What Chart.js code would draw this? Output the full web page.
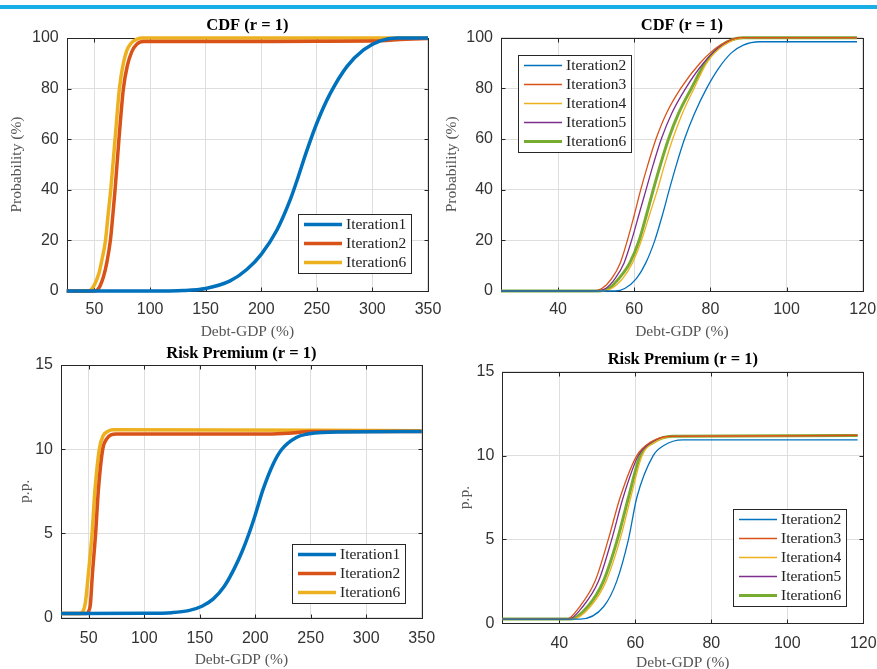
<!DOCTYPE html>
<html>
<head>
<meta charset="utf-8">
<title>CDF and Risk Premium (r = 1)</title>
<script src="https://cdn.jsdelivr.net/npm/chart.js@4.4.1/dist/chart.umd.min.js"></script>
<style>
  html, body { margin: 0; padding: 0; background: #fff; }
  #wrap { position: relative; width: 877px; height: 669px; overflow: hidden; }
  #wrap canvas { position: absolute; left: 0; top: 0; }
  .bar { position: absolute; left: 0; top: 5px; width: 877px; height: 4px; background: #19aee6; }
</style>
</head>
<body>
<div id="wrap">
  <div class="bar"></div>
  <canvas id="cdfWide" width="877" height="669"></canvas>
  <canvas id="cdfNarrow" width="877" height="669"></canvas>
  <canvas id="premWide" width="877" height="669"></canvas>
  <canvas id="premNarrow" width="877" height="669"></canvas>
</div>
<script>
// tick labels
const debtTicksWide = [50, 100, 150, 200, 250, 300, 350];
const debtTicksNarrow = [40, 60, 80, 100, 120];
const probTicks = [0, 20, 40, 60, 80, 100];
const premTicks = [0, 5, 10, 15];

// CDF, iterations 1, 2, 6 (top left)
const cdfW1X = [25, 100, 130, 150, 172, 187, 200, 214, 226, 232, 241, 250.6, 262, 277, 292, 307, 322, 350];
const cdfW1Y = [0, 0, 0.2, 1.0, 4, 8.5, 14.5, 24, 36, 43.5, 55.5, 67, 78, 88.7, 95.3, 98.9, 100, 100];
const cdfW2X = [25, 50, 52.5, 55, 58, 61, 64.3, 66.5, 68.5, 72, 76, 79.5, 83.5, 88, 94, 150, 250, 300, 330, 350];
const cdfW2Y = [0, 0, 0.4, 2, 5.5, 11, 20, 30, 40, 60, 80, 89, 94.5, 97.5, 98.6, 98.6, 98.7, 98.8, 99.5, 99.8];
const cdfW6X = [25, 44, 47, 50.5, 54, 57, 59.9, 62.2, 64.6, 68.5, 72.4, 75.5, 79, 83, 88, 93, 350];
const cdfW6Y = [0, 0, 0.5, 3, 7, 13, 20, 30, 40, 60, 80, 89, 95, 98, 99.5, 100, 100];

// CDF, iterations 2 to 6 (top right)
const cdfLevels = [0, 0, 1, 5, 11, 20, 30, 40, 50, 60, 70, 80, 90, 97, 100, 100];
const cdfN2X = [25, 55, 57.5, 60.6, 63, 65.4, 67.4, 69.2, 71.1, 73.2, 75.8, 79, 82.2, 85.5, 88.5, 93, 118.5];
const cdfN2Y = [0, 0, 1, 5, 11, 20, 30, 40, 50, 60, 70, 80, 88, 94, 97, 98.4, 98.4];
const cdfN3X = [25, 49, 51.5, 54.1, 56.3, 58.2, 60, 61.7, 63.6, 65.7, 68.4, 72.2, 77.3, 82.5, 88, 118.5];
const cdfN4X = [25, 51, 54, 57, 59.5, 61.9, 64, 66.1, 68, 70.1, 72.6, 75.7, 79, 83.5, 89.5, 118.5];
const cdfN5X = [25, 50, 52.5, 55, 57.3, 59.3, 61.2, 63.1, 65, 67.1, 69.8, 73.5, 78.2, 83, 88.5, 118.5];
const cdfN6X = [25, 50.5, 53.3, 56, 58.8, 61.3, 63.2, 65, 66.9, 69, 71.6, 75, 78.6, 83, 88.5, 118.5];

// Risk premium, iterations 1, 2, 6 (bottom left)
const premW1X = [25, 100, 125, 140, 152, 162, 172, 181, 188, 194.4, 200, 207, 216, 224, 237, 247, 260, 350];
const premW1Y = [0.25, 0.26, 0.3, 0.42, 0.68, 1.1, 1.85, 2.9, 3.9, 5.0, 6.1, 7.6, 9.1, 10.0, 10.7, 10.9, 11.0, 11.05];
const premW2X = [25, 48, 50, 51.5, 53.2, 56.2, 58.6, 62.6, 66, 70, 75, 200, 230, 250, 350];
const premW2Y = [0.25, 0.25, 0.4, 0.8, 2.5, 5, 7.5, 10, 10.6, 10.85, 10.9, 10.9, 10.95, 11.05, 11.05];
const premW6X = [25, 42, 45, 47, 49.5, 53, 55.5, 59.5, 63, 67, 72, 350];
const premW6Y = [0.25, 0.25, 0.4, 0.9, 2.5, 5, 7.5, 10, 10.8, 11.05, 11.15, 11.1];

// Risk premium, iterations 2 to 6 (bottom right)
const premLevels = [0.25, 0.25, 1, 2.5, 5, 7.5, 10, 10.8, 11.15, 11.2];
const premN2Y = [0.25, 0.25, 1, 2.5, 5, 7.5, 10, 10.6, 10.93, 10.93];
const premN2X = [25, 45.5, 51.7, 55.1, 58.2, 60.4, 64.7, 67.5, 72.5, 118.5];
const premN3X = [25, 42, 45.4, 49.4, 52.9, 56, 60.4, 64, 69, 118.5];
const premN4X = [25, 43.5, 48.2, 52.3, 56, 58.8, 61.8, 65.2, 70, 118.5];
const premN5X = [25, 42.5, 46.2, 50.3, 53.8, 56.8, 60.8, 64.3, 69.3, 118.5];
const premN6X = [25, 43, 47.5, 51.6, 55.3, 58.2, 61.3, 64.8, 69.8, 118.5];

const BLUE = '#0072BD', ORANGE = '#D95319', YELLOW = '#EDB120', PURPLE = '#7E2F8E', GREEN = '#77AC30';
const SERIF = '"Liberation Serif", "Times New Roman", serif';
const SANS = '"Liberation Sans", Arial, sans-serif';
const W = 877, H = 669;

function series(label, xs, ys, color, width) {
  return {
    label: label,
    data: xs.map((x, i) => ({ x: x, y: ys[i] })),
    borderColor: color,
    borderWidth: width,
    pointRadius: 0,
    fill: false,
    cubicInterpolationMode: 'monotone',
    clip: 6
  };
}

// matlab-like box with inward ticks
const axesBox = {
  id: 'axesBox',
  beforeDatasetsDraw(chart) {
    const { ctx, chartArea: a, scales } = chart;
    const L = Math.round(a.left) + 0.5, R = Math.round(a.right) + 0.5;
    const T = Math.round(a.top) + 0.5, B = Math.round(a.bottom) + 0.5;
    ctx.save();
    ctx.strokeStyle = '#262626';
    ctx.lineWidth = 1;
    ctx.strokeRect(L, T, R - L, B - T);
    ctx.beginPath();
    scales.x.ticks.forEach(t => {
      const px = Math.round(scales.x.getPixelForValue(t.value)) + 0.5;
      ctx.moveTo(px, B); ctx.lineTo(px, B - 4);
      ctx.moveTo(px, T); ctx.lineTo(px, T + 4);
    });
    scales.y.ticks.forEach(t => {
      const py = Math.round(scales.y.getPixelForValue(t.value)) + 0.5;
      ctx.moveTo(L, py); ctx.lineTo(L + 4, py);
      ctx.moveTo(R, py); ctx.lineTo(R - 4, py);
    });
    ctx.stroke();
    ctx.restore();
  }
};

// legend box inside the plot
const boxLegend = {
  id: 'boxLegend',
  afterDraw(chart, args, opts) {
    const { ctx, chartArea: a } = chart;
    const sets = chart.data.datasets;
    ctx.save();
    ctx.font = '15.5px ' + SERIF;
    const textW = Math.max(...sets.map(d => ctx.measureText(d.label).width));
    const w = Math.round(6 + 38 + 4 + textW + 5), h = sets.length * 19 + 2;
    const left = Math.round(opts.left ? a.left + opts.dx : a.right - opts.dx - w);
    const top = Math.round(opts.top ? a.top + opts.dy : a.bottom - opts.dy - h);
    ctx.fillStyle = '#fff';
    ctx.fillRect(left, top, w, h);
    ctx.strokeStyle = '#262626';
    ctx.lineWidth = 1;
    ctx.strokeRect(left + 0.5, top + 0.5, w, h);
    sets.forEach((d, i) => {
      const y = top + 1 + 19 * (i + 0.5);
      ctx.strokeStyle = d.borderColor;
      ctx.lineWidth = d.borderWidth;
      ctx.beginPath();
      ctx.moveTo(left + 6, y);
      ctx.lineTo(left + 44, y);
      ctx.stroke();
      ctx.fillStyle = '#222';
      ctx.textAlign = 'left';
      ctx.textBaseline = 'middle';
      ctx.fillText(d.label, left + 48, y + 0.5);
    });
    ctx.restore();
  }
};

function panel(id, p) {
  const titleLH = 16.5 * 1.2, axisLH = 15.5 * 1.2;
  const padTop = p.titleY - titleLH / 2;
  const padBottom = Math.max(0, H - (p.xTitleY + axisLH / 2));
  const xBoxH = H - padBottom - p.b;
  new Chart(document.getElementById(id), {
    type: 'line',
    data: { datasets: p.datasets },
    options: {
      responsive: false,
      animation: false,
      devicePixelRatio: 1,
      events: [],
      layout: { padding: { left: p.padL, right: W - p.r, top: padTop, bottom: padBottom } },
      plugins: {
        legend: { display: false },
        tooltip: { enabled: false },
        title: {
          display: true, text: p.title, fullSize: false, color: '#000',
          font: { family: SERIF, size: 16.5, weight: 'bold' },
          padding: { top: 0, bottom: p.t - padTop - titleLH }
        },
        boxLegend: p.legend
      },
      scales: {
        x: {
          type: 'linear', min: 25, max: p.xMax,
          afterBuildTicks: s => { s.ticks = p.xTicks.map(v => ({ value: v })); },
          afterFit: s => { s.height = xBoxH; s.paddingLeft = 0; s.paddingRight = 0; },
          grid: { color: '#dedede', drawTicks: false },
          border: { display: false },
          ticks: { color: '#333', padding: p.tickPad, autoSkip: false, maxRotation: 0,
                   font: { family: SANS, size: 16 } },
          title: { display: true, text: 'Debt-GDP (%)', color: '#555',
                   font: { family: SERIF, size: 15.5 },
                   padding: { top: 0, bottom: H - padBottom - p.xTitleY - axisLH / 2 } }
        },
        y: {
          type: 'linear', min: 0, max: p.yMax,
          afterBuildTicks: s => { s.ticks = p.yTicks.map(v => ({ value: v })); },
          afterFit: s => { s.width = p.l - p.padL; s.paddingTop = 0; s.paddingBottom = 0; },
          grid: { color: '#dedede', drawTicks: false },
          border: { display: false },
          ticks: { color: '#333', padding: 8, autoSkip: false, font: { family: SANS, size: 16 } },
          title: { display: true, text: p.yTitle, color: '#555',
                   font: { family: SERIF, size: 15.5 },
                   padding: { top: p.yTitleX - p.padL - axisLH / 2, bottom: 0 } }
        }
      }
    },
    plugins: [axesBox, boxLegend]
  });
}

panel('cdfWide', {
  l: 66.7, r: 428, t: 38, b: 291, padL: 0,
  titleY: 26, tickPad: 9.4, xTitleY: 331.7, yTitleX: 17,
  title: 'CDF (r = 1)', yTitle: 'Probability (%)',
  xMax: 350, xTicks: debtTicksWide, yMax: 100, yTicks: probTicks,
  legend: { left: false, top: false, dx: 17, dy: 18 },
  datasets: [
    series('Iteration1', cdfW1X, cdfW1Y, BLUE, 3.5),
    series('Iteration2', cdfW2X, cdfW2Y, ORANGE, 3.5),
    series('Iteration6', cdfW6X, cdfW6Y, YELLOW, 3.5)
  ]
});

panel('cdfNarrow', {
  l: 501, r: 862.7, t: 37.7, b: 291, padL: 440,
  titleY: 26, tickPad: 9.4, xTitleY: 331.7, yTitleX: 451.5,
  title: 'CDF (r = 1)', yTitle: 'Probability (%)',
  xMax: 120, xTicks: debtTicksNarrow, yMax: 100, yTicks: probTicks,
  legend: { left: true, top: true, dx: 17, dy: 17 },
  datasets: [
    series('Iteration2', cdfN2X, cdfN2Y, BLUE, 1.3),
    series('Iteration3', cdfN3X, cdfLevels, ORANGE, 1.3),
    series('Iteration4', cdfN4X, cdfLevels, YELLOW, 1.3),
    series('Iteration5', cdfN5X, cdfLevels, PURPLE, 1.3),
    series('Iteration6', cdfN6X, cdfLevels, GREEN, 3)
  ]
});

panel('premWide', {
  l: 61, r: 421.7, t: 365, b: 617.7, padL: 0,
  titleY: 354.2, tickPad: 11, xTitleY: 660, yTitleX: 25,
  title: 'Risk Premium (r = 1)', yTitle: 'p.p.',
  xMax: 350, xTicks: debtTicksWide, yMax: 15, yTicks: premTicks,
  legend: { left: false, top: false, dx: 17, dy: 15 },
  datasets: [
    series('Iteration1', premW1X, premW1Y, BLUE, 3.5),
    series('Iteration2', premW2X, premW2Y, ORANGE, 3.5),
    series('Iteration6', premW6X, premW6Y, YELLOW, 3.5)
  ]
});

panel('premNarrow', {
  l: 502.3, r: 863.3, t: 371.7, b: 623.3, padL: 440,
  titleY: 359.5, tickPad: 10.4, xTitleY: 663.3, yTitleX: 465,
  title: 'Risk Premium (r = 1)', yTitle: 'p.p.',
  xMax: 120, xTicks: debtTicksNarrow, yMax: 15, yTicks: premTicks,
  legend: { left: false, top: false, dx: 17, dy: 17 },
  datasets: [
    series('Iteration2', premN2X, premN2Y, BLUE, 1.3),
    series('Iteration3', premN3X, premLevels, ORANGE, 1.3),
    series('Iteration4', premN4X, premLevels, YELLOW, 1.3),
    series('Iteration5', premN5X, premLevels, PURPLE, 1.3),
    series('Iteration6', premN6X, premLevels, GREEN, 3)
  ]
});
</script>
</body>
</html>
